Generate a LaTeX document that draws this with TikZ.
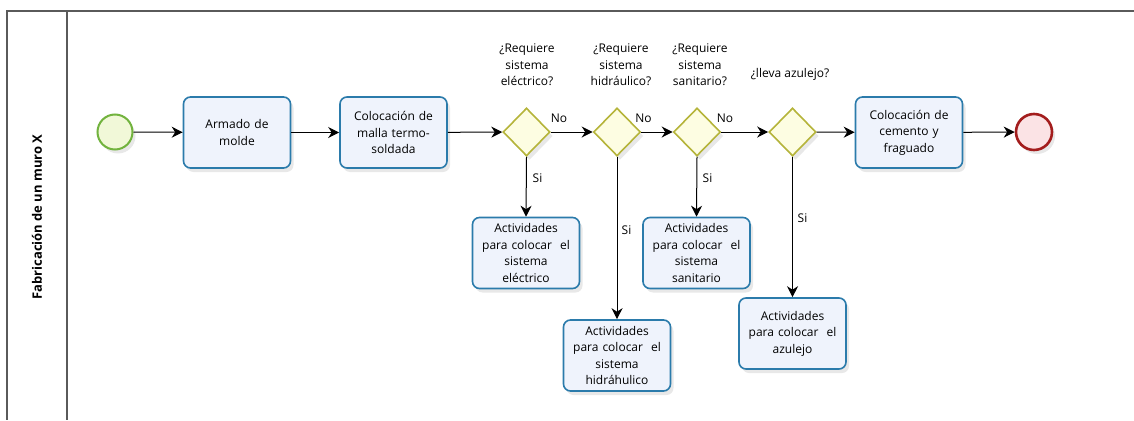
\documentclass[tikz,border=0pt]{standalone}
\usepackage{fontspec}
\setmainfont{Open Sans}
\usetikzlibrary{shapes.geometric,arrows.meta,shadows}

\definecolor{lanecol}{HTML}{5A5A5A}
\definecolor{taskline}{HTML}{2B7BAB}
\definecolor{taskfill}{HTML}{EFF3FC}
\definecolor{gateline}{HTML}{B5B43A}
\definecolor{gatefill}{HTML}{FDFDE2}
\definecolor{startline}{HTML}{72B33E}
\definecolor{startfill}{HTML}{F1F8D8}
\definecolor{endline}{HTML}{A31D1D}
\definecolor{endfill}{HTML}{FBE3E5}

\tikzset{
  softshadow/.style={drop shadow={shadow xshift=3pt, shadow yshift=-4pt, opacity=0.18, fill=gray}},
  txt/.style={font=\fontsize{12}{16.5}\selectfont, align=center},
  task/.style={txt, rectangle, rounded corners=7pt, draw=taskline, fill=taskfill,
    line width=1.6pt, minimum width=107pt, minimum height=71pt, text width=104pt,
    inner sep=1pt, softshadow},
  gateway/.style={diamond, draw=gateline, fill=gatefill, line width=1.6pt,
    minimum width=47pt, minimum height=48pt, inner sep=0pt, softshadow},
  startev/.style={circle, draw=startline, fill=startfill, line width=2pt,
    minimum size=35pt, inner sep=0pt, softshadow},
  endev/.style={circle, draw=endline, fill=endfill, line width=2.6pt,
    minimum size=36pt, inner sep=0pt, softshadow},
  flow/.style={draw=black, line width=1pt, -{Stealth[length=11pt,width=11pt,inset=3.5pt]}},
  lbl/.style={txt, inner sep=0pt},
}

\begin{document}
\begin{tikzpicture}[x=1pt,y=-1pt]
\useasboundingbox (0,0) rectangle (1134,420);

% pool and lane header
\draw[lanecol, line width=1.6pt] (1134,11) -- (7,11) -- (7,420);
\draw[lanecol, line width=1.6pt] (67,11) -- (67,420);
\node[rotate=90, font=\fontsize{13}{15}\bfseries\selectfont] (lane) at (37,217) {Fabricación de un muro X};

% events and tasks on the main line
\node[startev] (start) at (115,132) {};
\node[task] (molde) at (237,132.5) {Armado de\\molde};
\node[task] (malla) at (393.5,132.5) {Colocación de\\malla termo-\\soldada};
\node[gateway] (g1) at (526.5,132) {};
\node[gateway] (g2) at (617,132) {};
\node[gateway] (g3) at (697,132) {};
\node[gateway] (g4) at (792.5,132) {};
\node[task] (cemento) at (909,132.5) {Colocación de\\cemento y\\fraguado};
\node[endev] (fin) at (1034,132) {};

% branch tasks
\node[task] (electrico) at (526,253) {Actividades\\para colocar\ \ el\\sistema\\eléctrico};
\node[task] (hidraulico) at (617,355.5) {Actividades\\para colocar\ \ el\\sistema\\hidráhulico};
\node[task] (sanitario) at (696.5,253) {Actividades\\para colocar\ \ el\\sistema\\sanitario};
\node[task] (azulejo) at (792.5,333.5) {Actividades\\para colocar\ \ el\\azulejo};

% gateway questions
\node[lbl] (q1) at (527,65) {¿Requiere\\sistema\\eléctrico?};
\node[lbl] (q2) at (621,65) {¿Requiere\\sistema\\hidráulico?};
\node[lbl] (q3) at (700,65) {¿Requiere\\sistema\\sanitario?};
\node[lbl] (q4) at (790,74) {¿lleva azulejo?};

% sequence flows
\draw[flow] (start) -- (molde);
\draw[flow] (molde) -- (malla);
\draw[flow] (malla) -- (g1);
\draw[flow] (g1) -- (g2);
\draw[flow] (g2) -- (g3);
\draw[flow] (g3) -- (g4);
\draw[flow] (g4) -- (cemento);
\draw[flow] (cemento) -- (fin);

\draw[flow] (g1.south) -- (electrico.north);
\draw[flow] (g2.south) -- (hidraulico.north);
\draw[flow] (g3.south) -- (sanitario.north);
\draw[flow] (g4.south) -- (azulejo.north);

% branch labels
\node[lbl] (no1) at (559,118) {No};
\node[lbl] (no2) at (643.5,118) {No};
\node[lbl] (no3) at (725,118) {No};
\node[lbl] (si1) at (537.5,178) {Si};
\node[lbl] (si2) at (626.5,230) {Si};
\node[lbl] (si3) at (707.5,178) {Si};
\node[lbl] (si4) at (802.5,218) {Si};
\end{tikzpicture}
\end{document}
